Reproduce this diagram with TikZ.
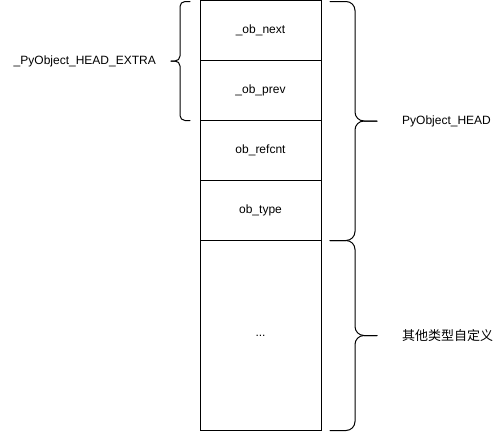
\documentclass[tikz,border=0pt]{standalone}
\usepackage{fontspec}
\setmainfont{Liberation Sans}
\newfontfamily\cjk{Noto Sans CJK SC}
\usetikzlibrary{positioning,calc}

\tikzset{
  field/.style = {draw, line width = 1pt, outer sep = 0pt, inner sep = 0pt,
                  minimum width = 121pt, minimum height = 60pt,
                  font = \fontsize{12}{14}\selectfont},
  bracket/.style = {draw, line width = 1pt, line cap = round},
  tag/.style = {inner sep = 0pt, font = \fontsize{12}{14}\selectfont}
}

\begin{document}
\begin{tikzpicture}[x = 1pt, y = 1pt]
    \useasboundingbox (0,0) rectangle (501,-432);

    \node[field] (next) at (260.5,-30.5) {\_ob\_next};
    \node[field, below = 0pt of next] (prev) {\_ob\_prev};
    \node[field, below = 0pt of prev] (refcnt) {ob\_refcnt};
    \node[field, below = 0pt of refcnt] (type) {ob\_type};
    \node[field, below = 0pt of type, minimum height = 190pt] (custom) {...};

    % left bracket over _ob_next and _ob_prev
    \coordinate (extraTop) at ($(next.north west) + (-10,-1)$);
    \coordinate (extraBot) at ($(prev.south west) + (-10,0)$);
    \coordinate (extraTip) at ($(extraTop)!0.5!(extraBot) + (-19,0)$);
    \draw[bracket, rounded corners = 5pt] (extraTop) -- ++(-10,0) |- (extraTip);
    \draw[bracket, rounded corners = 5pt] (extraBot) -- ++(-10,0) |- (extraTip);
    \node[tag, left = 15pt of extraTip] (extraLabel) {\_PyObject\_HEAD\_EXTRA};

    % right bracket over the header
    \coordinate (headTop) at ($(next.north east) + (9,-1)$);
    \coordinate (headBot) at ($(type.south east) + (9,0)$);
    \coordinate (headTip) at ($(headTop)!0.5!(headBot) + (47,0)$);
    \draw[bracket, rounded corners = 9pt] (headTop) -- ++(25,0) |- (headTip);
    \draw[bracket, rounded corners = 9pt] (headBot) -- ++(25,0) |- (headTip);
    \node[tag, right = 25pt of headTip] (headLabel) {PyObject\_HEAD};

    % right bracket over the rest
    \coordinate (restTop) at ($(custom.north east) + (9,0)$);
    \coordinate (restBot) at ($(custom.south east) + (9,0)$);
    \coordinate (restTip) at ($(restTop)!0.5!(restBot) + (47,0)$);
    \draw[bracket, rounded corners = 9pt] (restTop) -- ++(25,0) |- (restTip);
    \draw[bracket, rounded corners = 9pt] (restBot) -- ++(25,0) |- (restTip);
    \node[tag, right = 25pt of restTip, font = \fontsize{13}{15}\selectfont] (restLabel) {\cjk 其他类型自定义};
\end{tikzpicture}
\end{document}
